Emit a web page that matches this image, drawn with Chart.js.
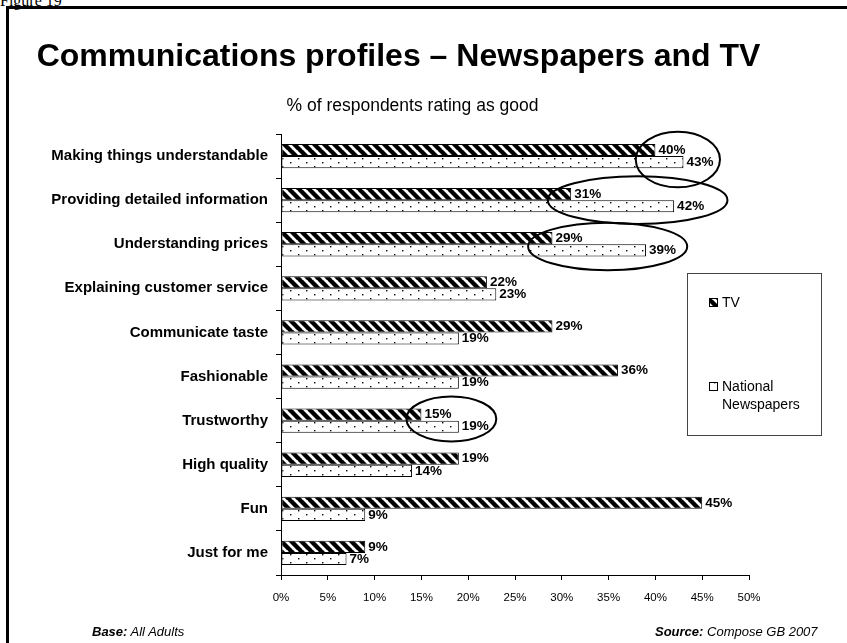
<!DOCTYPE html>
<html>
<head>
<meta charset="utf-8">
<script src="https://cdn.jsdelivr.net/npm/chart.js@4.4.1/dist/chart.umd.min.js"></script>
<style>
  html, body { margin: 0; padding: 0; background: #fff; }
  #wrap { position: relative; width: 847px; height: 643px; overflow: hidden; font-family: "Liberation Sans", Arial, sans-serif; color: #000; }
  #chart { position: absolute; left: 0; top: 0; }
  .frame { position: absolute; left: 6px; top: 6px; width: 900px; height: 700px; border-left: 3px solid #000; border-top: 3px solid #000; }
  .fig { position: absolute; left: 0; top: -8px; font-family: "Liberation Serif", "Times New Roman", serif; font-size: 16px; }
  .title { position: absolute; left: 0; width: 797px; top: 37px; text-align: center; font-weight: bold; font-size: 32px; }
  .subtitle { position: absolute; left: 0; width: 825px; top: 95px; text-align: center; font-size: 17.5px; }
  .note { position: absolute; top: 624px; font-size: 13px; font-style: italic; }
</style>
</head>
<body>
<div id="wrap">
  <div class="fig">Figure 19</div>
  <div class="frame"></div>
  <canvas id="chart" width="847" height="643"></canvas>
  <div class="title">Communications profiles – Newspapers and TV</div>
  <div class="subtitle">% of respondents rating as good</div>
  <div class="note" style="left: 92px;"><b>Base:</b> All Adults</div>
  <div class="note" style="left: 655px;"><b>Source:</b> Compose GB 2007</div>
</div>
<script>
document.addEventListener("DOMContentLoaded", function() {

    // --- dados ---
    const categories = [
        'Making things understandable',
        'Providing detailed information',
        'Understanding prices',
        'Explaining customer service',
        'Communicate taste',
        'Fashionable',
        'Trustworthy',
        'High quality',
        'Fun',
        'Just for me'
    ];
    const tvValues = [40, 31, 29, 22, 29, 36, 15, 19, 45, 9];
    const newspaperValues = [43, 42, 39, 23, 19, 19, 19, 14, 9, 7];
    const seriesNames = ['TV', ['National', 'Newspapers']];
    const xTicks = [0, 5, 10, 15, 20, 25, 30, 35, 40, 45, 50];

    // destaques circulados: categoria, centro em %, raios (% e fração da categoria)
    const highlights = [
        { cat: 0, x: 42.4, rx: 4.5, ry: 0.63, dy: 0.08 },
        { cat: 1, x: 38.1, rx: 9.6, ry: 0.54, dy: 0.0 },
        { cat: 2, x: 34.9, rx: 8.5, ry: 0.54, dy: 0.05 },
        { cat: 6, x: 18.2, rx: 4.8, ry: 0.51, dy: -0.04 }
    ];

    const FONT = '"Liberation Sans", Arial, sans-serif';

    // --- padrões de preenchimento ---
    function stripePattern() {
        const s = 10;
        const c = document.createElement('canvas');
        c.width = s; c.height = s;
        const g = c.getContext('2d');
        g.fillStyle = '#fff';
        g.fillRect(0, 0, s, s);
        g.strokeStyle = '#000';
        g.lineWidth = 4.4;
        for (let k = -1; k <= 1; k++) {
            g.beginPath();
            g.moveTo(k * s - 1, -1);
            g.lineTo(k * s + s + 1, s + 1);
            g.stroke();
        }
        return c;
    }
    function dotPattern() {
        const c = document.createElement('canvas');
        c.width = 16; c.height = 8;
        const g = c.getContext('2d');
        g.fillStyle = '#fff';
        g.fillRect(0, 0, 16, 8);
        g.fillStyle = '#000';
        g.fillRect(2, 2, 1.4, 1.4);
        g.fillRect(10, 6, 1.4, 1.4);
        return c;
    }

    const ctx = document.getElementById('chart').getContext('2d');
    const tvFill = ctx.createPattern(stripePattern(), 'repeat');
    const npFill = ctx.createPattern(dotPattern(), 'repeat');

    // rótulos de valor na ponta das barras
    const valueLabels = {
        id: 'valueLabels',
        afterDatasetsDraw(chart) {
            const c = chart.ctx;
            c.save();
            c.font = 'bold 13.5px ' + FONT;
            c.fillStyle = '#000';
            c.textBaseline = 'middle';
            c.textAlign = 'left';
            chart.data.datasets.forEach((ds, i) => {
                chart.getDatasetMeta(i).data.forEach((bar, j) => {
                    c.fillText(ds.data[j] + '%', bar.x + 3, bar.y);
                });
            });
            c.restore();
        }
    };

    // elipses de destaque
    const ellipses = {
        id: 'ellipses',
        afterDatasetsDraw(chart) {
            const c = chart.ctx;
            const xs = chart.scales.x, ys = chart.scales.y;
            const step = ys.getPixelForValue(1) - ys.getPixelForValue(0);
            const unit = xs.getPixelForValue(1) - xs.getPixelForValue(0);
            c.save();
            c.strokeStyle = '#000';
            c.lineWidth = 2;
            highlights.forEach(h => {
                const cx = xs.getPixelForValue(h.x);
                const cy = ys.getPixelForValue(h.cat) + h.dy * step;
                c.beginPath();
                c.ellipse(cx, cy, h.rx * unit, h.ry * step, 0, 0, Math.PI * 2);
                c.stroke();
            });
            c.restore();
        }
    };

    // legenda em caixa à direita
    const boxLegend = {
        id: 'boxLegend',
        afterDraw(chart) {
            const c = chart.ctx;
            c.save();
            c.strokeStyle = '#444';
            c.lineWidth = 1;
            c.strokeRect(687.5, 273.5, 134, 162);
            c.font = '14px ' + FONT;
            c.textBaseline = 'middle';
            const rows = [303, 387];
            chart.data.datasets.forEach((ds, i) => {
                const y = rows[i];
                c.fillStyle = ds.backgroundColor;
                c.fillRect(709.5, y - 4.5, 8, 8);
                c.strokeStyle = '#000';
                c.strokeRect(709.5, y - 4.5, 8, 8);
                c.fillStyle = '#000';
                const lines = Array.isArray(ds.label) ? ds.label : [ds.label];
                lines.forEach((t, k) => c.fillText(t, 722, y + k * 18));
            });
            c.restore();
        }
    };

    new Chart(ctx, {
        type: 'bar',
        data: {
            labels: categories,
            datasets: [
                {
                    label: seriesNames[0],
                    data: tvValues,
                    backgroundColor: tvFill,
                    borderColor: '#000',
                    borderWidth: 1,
                    borderSkipped: false,
                    categoryPercentage: 0.55,
                    barPercentage: 1
                },
                {
                    label: seriesNames[1],
                    data: newspaperValues,
                    backgroundColor: npFill,
                    borderColor: '#000',
                    borderWidth: 1,
                    borderSkipped: false,
                    categoryPercentage: 0.55,
                    barPercentage: 1
                }
            ]
        },
        options: {
            indexAxis: 'y',
            responsive: false,
            animation: false,
            layout: { padding: { top: 134, right: 98, left: 0, bottom: 0 } },
            scales: {
                x: {
                    min: xTicks[0],
                    max: xTicks[xTicks.length - 1],
                    afterBuildTicks(scale) {
                        scale.ticks = xTicks.map(v => ({ value: v }));
                    },
                    afterFit(scale) { scale.height = 68; },
                    ticks: {
                        callback: v => v + '%',
                        color: '#000',
                        font: { family: FONT, size: 11.5 },
                        padding: 11,
                        maxRotation: 0
                    },
                    grid: { drawOnChartArea: false, tickLength: 5, color: '#000' },
                    border: { color: '#000' }
                },
                y: {
                    afterFit(scale) { scale.width = 281; },
                    ticks: {
                        color: '#000',
                        font: { family: FONT, size: 15, weight: 'bold' },
                        padding: 8
                    },
                    grid: { drawOnChartArea: false, tickLength: 5, color: '#000', offset: true },
                    border: { color: '#000' }
                }
            },
            plugins: {
                legend: { display: false },
                tooltip: { enabled: false }
            }
        },
        plugins: [valueLabels, ellipses, boxLegend]
    });
});
</script>
</body>
</html>
